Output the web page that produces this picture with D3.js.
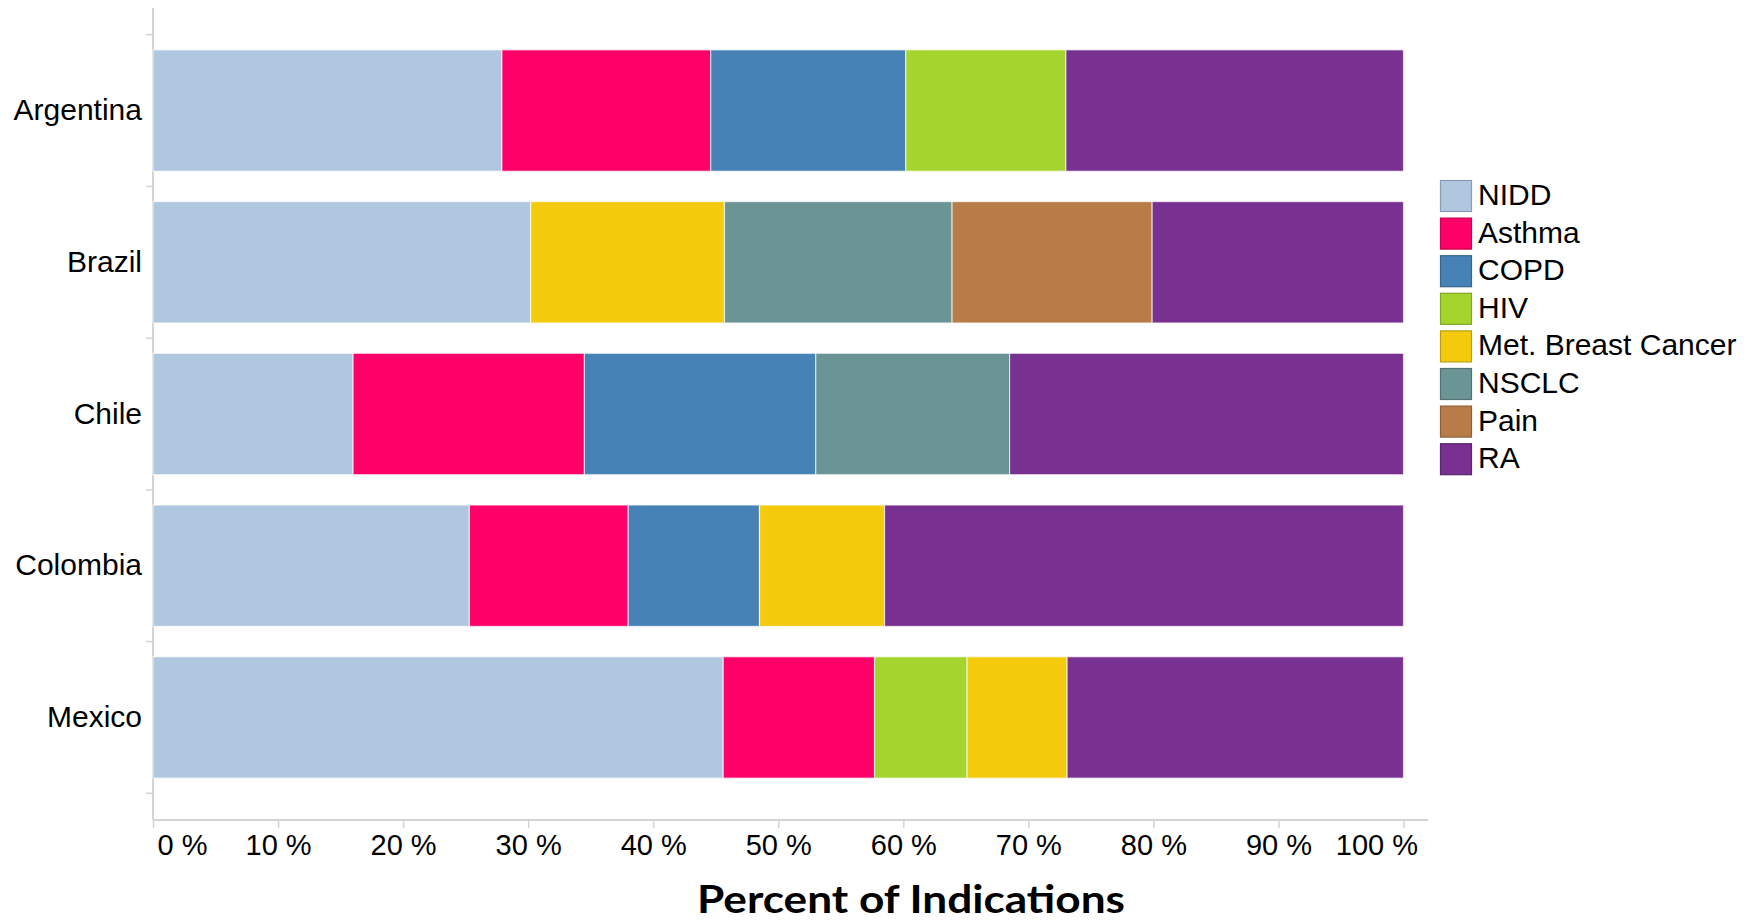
<!DOCTYPE html>
<html>
<head>
<meta charset="utf-8">
<script src="https://cdn.jsdelivr.net/npm/d3@7"></script>
<style>
  html, body { margin: 0; padding: 0; background: #fff; }
  svg { display: block; }
</style>
</head>
<body>
<svg id="chart" width="1755" height="923"></svg>
<script>
// Countries (rows) and indications (stack order, left to right)
const countries = ["Argentina", "Brazil", "Chile", "Colombia", "Mexico"];
const indications = ["NIDD", "Asthma", "COPD", "HIV", "Met. Breast Cancer", "NSCLC", "Pain", "RA"];
const colors = ["#b0c8df", "#ff0068", "#4682b6", "#a6d42e", "#f3cb0c", "#6b9494", "#b87c48", "#783190"];

// Share of indications per country (%), one array per indication, in country order
const NIDD          = [27.9, 30.2, 16.0, 25.3, 45.6];
const Asthma        = [16.7,  0.0, 18.5, 12.7, 12.1];
const COPD          = [15.6,  0.0, 18.5, 10.5,  0.0];
const HIV           = [12.8,  0.0,  0.0,  0.0,  7.4];
const MetBreast     = [ 0.0, 15.5,  0.0, 10.0,  8.0];
const NSCLC         = [ 0.0, 18.2, 15.5,  0.0,  0.0];
const Pain          = [ 0.0, 16.0,  0.0,  0.0,  0.0];
const RA            = [27.0, 20.1, 31.5, 41.5, 26.9];
const seriesValues = [NIDD, Asthma, COPD, HIV, MetBreast, NSCLC, Pain, RA];

const xTicks = [0, 10, 20, 30, 40, 50, 60, 70, 80, 90, 100];
const xTitle = "Percent of Indications";

// Build rows for d3.stack
const rows = countries.map((c, i) => {
  const r = { country: c };
  indications.forEach((k, j) => { r[k] = seriesValues[j][i]; });
  return r;
});

const svg = d3.select("#chart");
const x0 = 153, x1 = 1403.5;
const yTop = 34.7, yBottom = 793.3;
const axisTopY = 8, axisY = 820, axisRight = 1428;

const x = d3.scaleLinear().domain([0, 100]).range([x0, x1]);
const y = d3.scaleBand().domain(countries).range([yTop, yBottom]).paddingInner(0.2).paddingOuter(0.1);
const color = d3.scaleOrdinal().domain(indications).range(colors);

const stack = d3.stack().keys(indications);
const layers = stack(rows);

const font = "'Liberation Sans', Arial, sans-serif";
const axisColor = "#d4d4d4";

// Axis lines
svg.append("line").attr("x1", x0).attr("x2", x0).attr("y1", axisTopY).attr("y2", axisY)
  .attr("stroke", axisColor).attr("stroke-width", 2);
svg.append("line").attr("x1", x0).attr("x2", axisRight).attr("y1", axisY).attr("y2", axisY)
  .attr("stroke", axisColor).attr("stroke-width", 2);

// Category boundary ticks on the y axis
const bounds = d3.range(countries.length + 1).map(i => y.range()[0] + i * y.step());
svg.append("g").selectAll("line").data(bounds).join("line")
  .attr("x1", x0 - 7).attr("x2", x0).attr("y1", d => d).attr("y2", d => d)
  .attr("stroke", axisColor).attr("stroke-width", 1.5);

// Stacked bars
svg.append("g").selectAll("g").data(layers).join("g")
  .attr("fill", d => color(d.key))
  .selectAll("rect").data(d => d.filter(s => s[1] - s[0] > 0)).join("rect")
  .attr("x", d => x(d[0]))
  .attr("y", d => y(d.data.country))
  .attr("width", d => x(d[1]) - x(d[0]))
  .attr("height", y.bandwidth())
  .attr("stroke", "rgba(255,255,255,0.65)")
  .attr("stroke-width", 1.2);

// Y axis labels
const yAxis = d3.axisLeft(y).tickSize(0).tickPadding(11);
const gy = svg.append("g").attr("transform", `translate(${x0},0)`).call(yAxis);
gy.select(".domain").remove();
gy.selectAll("text").attr("font-family", font).attr("font-size", 30).attr("fill", "#000")
  .attr("dy", "0.32em");

// X axis ticks and labels
const xAxis = d3.axisBottom(x).tickValues(xTicks).tickSize(8).tickPadding(6)
  .tickFormat(d => d + " %");
const gx = svg.append("g").attr("transform", `translate(0,${axisY})`).call(xAxis);
gx.select(".domain").remove();
gx.selectAll(".tick line").attr("stroke", axisColor).attr("stroke-width", 1.5);
gx.selectAll("text").attr("font-family", font).attr("font-size", 29).attr("fill", "#000")
  .attr("dy", "0.71em")
  .attr("text-anchor", (d, i) => i === 0 ? "start" : (i === xTicks.length - 1 ? "end" : "middle"))
  .attr("x", (d, i) => i === 0 ? 4 : (i === xTicks.length - 1 ? 14 : 0));

// X axis title
svg.append("text")
  .attr("x", 911).attr("y", 913)
  .attr("text-anchor", "middle")
  .attr("font-family", "Lato, 'Open Sans', sans-serif")
  .attr("font-weight", "bold")
  .attr("font-size", 39)
  .attr("fill", "#000")
  .attr("textLength", 428)
  .attr("lengthAdjust", "spacingAndGlyphs")
  .text(xTitle);

// Legend
const legend = svg.append("g").attr("transform", "translate(1440,180)");
const item = legend.selectAll("g").data(indications).join("g")
  .attr("transform", (d, i) => `translate(0,${i * 37.6})`);
item.append("rect")
  .attr("x", 0.5).attr("y", 0.5).attr("width", 31).attr("height", 31)
  .attr("fill", d => color(d))
  .attr("stroke", d => d3.color(color(d)).darker(0.7))
  .attr("stroke-width", 1.2);
item.append("text")
  .attr("x", 38).attr("y", 25)
  .attr("font-family", font).attr("font-size", 30).attr("fill", "#000")
  .text(d => d);
</script>
</body>
</html>
